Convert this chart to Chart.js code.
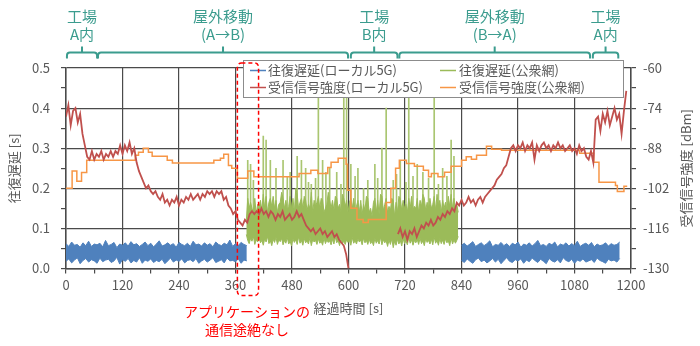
<!DOCTYPE html>
<html lang="ja">
<head>
<meta charset="utf-8">
<title>往復遅延と受信信号強度</title>
<script src="https://cdn.jsdelivr.net/npm/chart.js@4.4.1/dist/chart.umd.min.js"></script>
<style>
  html, body { margin: 0; padding: 0; background: #fff; }
</style>
</head>
<body>
<canvas id="chart" width="700" height="346"></canvas>
<script>
const FONT = "'Noto Sans CJK JP', 'Noto Sans', sans-serif";
const GRAY = '#595959';
const GRID = '#4a4a4a';
const TEAL = '#3b9c8e';

const seriesNames = ['往復遅延(ローカル5G)', '往復遅延(公衆網)', '受信信号強度(ローカル5G)', '受信信号強度(公衆網)'];
const seriesColors = ['#4f81bd', '#9bbb59', '#c0504d', '#f79646'];
const spikeColor = '#aac671';

// 軸の目盛り
const xTickValues = [0, 120, 240, 360, 480, 600, 720, 840, 960, 1080, 1200];
const yLeftTicks = [0, 0.1, 0.2, 0.3, 0.4, 0.5];
const yRightTicks = [-130, -116, -102, -88, -74, -60];

// 往復遅延(ローカル5G) [ms] 6秒ごとの上端・下端
const rttLocalStart = [0, 840];
const rttLocalStep = 6;
const rttLocalUpperA = [
  62,55,66,58,60, 53,64,57,68,55, 61,59,63,54,70, 57,60,65,52,61,
  58,64,56,67,59, 62,55,60,66,57, 63,54,61,69,56, 59,64,58,62,53,
  65,60,57,63,55, 68,59,61,56,64, 58,62,54,66,60, 57,63,59,71,55,
  62,58,65,60,57
];
const rttLocalLowerA = [
  18,24,14,21,27, 12,20,25,16,22, 19,13,26,17,21, 23,15,19,28,11,
  22,18,25,14,20, 16,27,13,21,18, 24,15,20,17,23, 12,19,26,16,21,
  18,24,14,20,22, 17,25,13,19,23, 16,21,27,15,18, 22,14,26,19,20,
  17,24,13,21,19
];
const rttLocalUpperB = [
  58,63,56,61,67, 55,60,64,57,62, 69,54,60,58,65, 57,62,55,63,59,
  66,53,61,58,64, 56,62,70,57,60, 55,63,59,66,54, 61,58,64,56,62,
  57,68,55,60,63, 58,65,54,61,57, 59,64,56,62,58, 60,66
];
const rttLocalLowerB = [
  20,15,24,18,13, 22,26,17,21,14, 19,25,16,23,12, 20,27,18,15,22,
  19,24,13,21,17, 26,20,15,23,18, 12,25,19,16,22, 14,27,20,17,23,
  13,21,18,24,16, 19,22,15,26,20, 17,13,23,19,21, 16,25
];

// 往復遅延(公衆網) [ms] 3秒ごとの上端・下端
const rttPublicStart = 383;
const rttPublicStep = 3;
const rttPublicUpper = [
  120,175,150,165,150,140,175,135,160,150,
  170,145,185,150,180,140,165,175,155,180,
  150,170,140,160,165,190,175,150,170,145,
  155,180,150,175,140,200,185,150,165,175,
  150,180,170,145,160,150,190,140,170,155,
  165,180,150,175,170,140,150,160,190,170,
  150,170,145,180,175,150,160,140,185,175,
  155,170,140,165,175,150,175,145,155,170,
  140,170,135,160,145,180,175,140,150,130,
  165,175,140,170,135,185,180,145,160,175,
  140,155,145,175,170,130,165,140,180,175,
  145,170,150,160,140,175,150,180,145,155,
  150,175,140,170,155,185,175,145,165,150,
  175,150,160,180,145,185,155,170,140,170,
  150,165,145,180,155,185,150,175,145,160,
  140
];
const rttPublicLower = [
  85,70,62,75,68,80,60,72,66,78,
  64,70,58,74,66,80,62,69,57,73,
  65,78,60,71,67,75,59,70,63,77,
  61,68,56,74,65,72,60,79,63,70,
  58,75,64,69,61,77,57,72,66,70,
  60,74,63,68,58,76,62,71,65,69,
  59,73,61,78,64,70,57,75,62,68,
  60,72,65,70,58,77,63,69,61,74,
  66,71,59,76,64,70,60,73,62,68,
  57,75,63,70,61,78,59,72,64,69,
  55,71,60,74,52,68,58,73,61,70,
  56,75,62,69,59,77,63,71,58,70,
  64,72,60,76,62,69,57,74,65,70,
  61,73,59,78,63,70,58,75,62,71,
  60,74,64,69,57,76,61,72,63,70,
  80
];
// 往復遅延(公衆網) の突発的な遅延 [s] と [ms]
const rttPublicSpikeTime = [386,392,398,419,425,434,446,461,470,476,491,500,509,515,521,530,536,545,552,560,
  575,584,590,596,605,614,620,632,641,656,662,671,680,695,702,710,722,728,737,746,
  758,770,782,791,800,809,818,824];
const rttPublicSpike = [270,260,220,330,320,270,250,270,230,240,280,270,250,215,210,225,490,270,240,250,
  240,210,490,480,260,230,250,200,220,260,225,300,400,220,235,270,215,490,230,260,
  240,225,490,210,250,230,320,280];
const rttPublicSpikeBase = 90;

// 受信信号強度(ローカル5G) [dBm] 5秒ごと
const rssiLocalStart = [0, 705];
const rssiLocalStep = 5;
const rssiLocalA = [
  -77,-73,-80,-75,-74,-79,-76,-83,-87,-91,
  -92,-89,-92,-90,-91,-89,-92,-90,-91,-89,
  -91,-89,-90,-87,-90,-87,-89,-86,-90,-88,
  -93,-96,-98,-100,-102,-101,-103,-104,-103,-105,
  -106,-104,-107,-106,-108,-106,-107,-105,-108,-106,
  -107,-105,-106,-104,-106,-105,-104,-106,-104,-105,
  -103,-104,-103,-105,-103,-104,-103,-106,-105,-108,
  -109,-111,-110,-113,-114,-115,-113,-114,-111,-110,
  -111,-110,-111,-109,-111,-110,-112,-110,-111,-113,
  -111,-112,-110,-113,-112,-111,-113,-112,-110,-112,
  -111,-113,-115,-116,-117,-116,-118,-117,-116,-118,
  -117,-119,-118,-117,-119,-118,-120,-121,-122,-125,
  -130
];
const rssiLocalB = [
  -118,-116,-119,-117,-120,-117,-118,-116,-119,-117,
  -115,-116,-114,-115,-113,-115,-114,-112,-113,-111,
  -112,-110,-111,-109,-110,-107,-108,-106,-108,-107,
  -105,-107,-106,-108,-106,-105,-107,-105,-104,-103,
  -102,-101,-99,-98,-97,-95,-94,-91,-88,-87,
  -89,-87,-88,-86,-89,-87,-88,-86,-92,-87,
  -89,-87,-86,-88,-87,-89,-87,-88,-86,-88,
  -87,-89,-88,-87,-89,-88,-90,-87,-89,-88,
  -91,-92,-89,-93,-78,-77,-82,-76,-79,-75,
  -80,-77,-74,-78,-76,-83,-75,-68
];

// 受信信号強度(公衆網) [dBm] 階段状
const rssiPublicTime = [0,13,23,33,44,147,154,164,175,183,215,226,314,328,335,345,352,364,386,399,
  495,520,535,556,563,578,595,598,605,618,631,642,680,690,700,708,723,740,759,770,
  776,790,804,818,840,850,861,872,893,904,925,1091,1121,1132,1167,1171,1185,1192];
const rssiPublic = [-102,-96,-99.5,-96.5,-92.2,-90.5,-89.4,-88,-89.4,-90.8,-92.2,-93.2,-92.2,-91.5,-90.1,-94,-95,-98.5,-96,-98,
  -96.8,-95.7,-96.8,-94.7,-92.9,-91.5,-93.6,-102.7,-109,-112.9,-113.9,-112.9,-107,-102,-95,-92.2,-93.3,-94.3,-95.7,-98,
  -96.8,-98,-96.4,-94.3,-92.2,-91,-91.9,-90.5,-87.3,-88.4,-88.7,-89.8,-92.9,-99.9,-101,-103.1,-101.3,-101.3];

// 区間ラベル
const phaseLines = [['工場', 'A内'], ['屋外移動', '(A→B)'], ['工場', 'B内'], ['屋外移動', '(B→A)'], ['工場', 'A内']];
const phaseFrom = [2, 68, 605, 708, 1119];
const phaseTo = [66, 599, 704, 1113, 1173];

// 注記
const noteFrom = 364;
const noteTo = 409;
const noteLines = ['アプリケーションの', '通信途絶なし'];

function toPoints(start, step, values, div) {
  return values.map((v, i) => ({ x: start + i * step, y: v / div }));
}

// 2区間を null で区切ってつなぐ
function twoParts(starts, step, a, b, div) {
  return toPoints(starts[0], step, a, div)
    .concat([{ x: starts[0] + a.length * step, y: null }])
    .concat(toPoints(starts[1], step, b, div));
}

const rttLocalUpper = twoParts(rttLocalStart, rttLocalStep, rttLocalUpperA, rttLocalUpperB, 1000);
const rttLocalLower = twoParts(rttLocalStart, rttLocalStep, rttLocalLowerA, rttLocalLowerB, 1000);
const rttPublicUp = toPoints(rttPublicStart, rttPublicStep, rttPublicUpper, 1000);
const rttPublicLow = toPoints(rttPublicStart, rttPublicStep, rttPublicLower, 1000);
const rttPublicSpikes = rttPublicSpikeTime.map((t, i) => ({ x: t, y: [rttPublicSpikeBase / 1000, rttPublicSpike[i] / 1000] }));
const rssiLocalData = twoParts(rssiLocalStart, rssiLocalStep, rssiLocalA, rssiLocalB, 1);
const rssiPublicData = rssiPublicTime.map((t, i) => ({ x: t, y: rssiPublic[i] }));

const overlay = {
  id: 'overlay',
  afterDatasetsDraw(chart) {
    const ctx = chart.ctx;
    ctx.save();
    // 凡例
    ctx.fillStyle = '#fff';
    ctx.fillRect(243, 60, 380, 37);
    ctx.strokeStyle = '#8c8c8c';
    ctx.lineWidth = 1;
    ctx.strokeRect(243.5, 60.5, 380, 37);
    const lineX = [250, 440], textX = [268, 459], rowY = [70.5, 87.5];
    ctx.font = '13px ' + FONT;
    ctx.textBaseline = 'middle';
    ctx.textAlign = 'left';
    seriesNames.forEach((name, i) => {
      const c = i % 2, r = Math.floor(i / 2);
      ctx.strokeStyle = seriesColors[i];
      ctx.lineWidth = 1.5;
      ctx.beginPath();
      ctx.moveTo(lineX[c], rowY[r]);
      ctx.lineTo(lineX[c] + 16, rowY[r]);
      ctx.stroke();
      ctx.fillStyle = GRAY;
      ctx.fillText(name, textX[c], rowY[r]);
    });
    // 赤い破線の枠
    const x = chart.scales.x;
    const area = chart.chartArea;
    const bx0 = x.getPixelForValue(noteFrom), bx1 = x.getPixelForValue(noteTo);
    const by0 = area.top - 5, by1 = area.bottom + 27;
    ctx.strokeStyle = '#ff0000';
    ctx.lineWidth = 1.5;
    ctx.setLineDash([4, 3]);
    ctx.beginPath();
    ctx.roundRect(bx0, by0, bx1 - bx0, by1 - by0, 4);
    ctx.stroke();
    ctx.restore();
  },
  afterDraw(chart) {
    const ctx = chart.ctx;
    const x = chart.scales.x;
    const area = chart.chartArea;
    ctx.save();
    // 区間ラベルと括弧
    ctx.strokeStyle = TEAL;
    ctx.fillStyle = TEAL;
    ctx.lineWidth = 2;
    ctx.font = '15px ' + FONT;
    ctx.textAlign = 'center';
    ctx.textBaseline = 'middle';
    phaseLines.forEach((lines, i) => {
      const x0 = x.getPixelForValue(phaseFrom[i]);
      const x1 = x.getPixelForValue(phaseTo[i]);
      const xm = (x0 + x1) / 2;
      const yb = 52.5, r = 3;
      ctx.beginPath();
      ctx.moveTo(x0, yb + 6);
      ctx.arcTo(x0, yb, x0 + r, yb, r);
      ctx.lineTo(x1 - r, yb);
      ctx.arcTo(x1, yb, x1, yb + r, r);
      ctx.lineTo(x1, yb + 6);
      ctx.moveTo(xm, yb);
      ctx.lineTo(xm, yb - 6);
      ctx.stroke();
      ctx.fillText(lines[0], xm, 16);
      ctx.fillText(lines[1], xm, 34);
    });
    // 右軸タイトル
    ctx.fillStyle = GRAY;
    ctx.font = '13px ' + FONT;
    ctx.translate(686, (area.top + area.bottom) / 2);
    ctx.rotate(-Math.PI / 2);
    ctx.fillText('受信信号強度 [dBm]', 0, 0);
    ctx.setTransform(1, 0, 0, 1, 0, 0);
    // 注記テキスト
    ctx.fillStyle = '#ff0000';
    ctx.font = '14px ' + FONT;
    const cx = (x.getPixelForValue(noteFrom) + x.getPixelForValue(noteTo)) / 2 - 1;
    ctx.fillText(noteLines[0], cx, 312);
    ctx.fillText(noteLines[1], cx, 330);
    ctx.restore();
  }
};

new Chart(document.getElementById('chart'), {
  type: 'line',
  data: {
    datasets: [
      // 細かい揺れは上端と下端の間を塗りつぶして帯として描く
      { label: seriesNames[0], data: rttLocalUpper, yAxisID: 'y', borderColor: seriesColors[0], backgroundColor: seriesColors[0], borderWidth: 1, fill: '+1', order: 3 },
      { label: seriesNames[0] + '下端', data: rttLocalLower, yAxisID: 'y', borderColor: seriesColors[0], borderWidth: 1, fill: false, order: 3 },
      { label: seriesNames[1], data: rttPublicUp, yAxisID: 'y', borderColor: seriesColors[1], backgroundColor: seriesColors[1], borderWidth: 1, fill: '+1', order: 2 },
      { label: seriesNames[1] + '下端', data: rttPublicLow, yAxisID: 'y', borderColor: seriesColors[1], borderWidth: 1, fill: false, order: 2 },
      { type: 'bar', label: seriesNames[1] + '突発', data: rttPublicSpikes, yAxisID: 'y', backgroundColor: spikeColor, barThickness: 1, grouped: false, order: 2 },
      { label: seriesNames[2], data: rssiLocalData, yAxisID: 'y2', borderColor: seriesColors[2], borderWidth: 1.8, order: 0 },
      { label: seriesNames[3], data: rssiPublicData, yAxisID: 'y2', borderColor: seriesColors[3], borderWidth: 1.5, stepped: 'before', order: 1 }
    ]
  },
  options: {
    responsive: false,
    animation: false,
    devicePixelRatio: 1,
    events: [],
    layout: { padding: { top: 68 } },
    elements: { point: { radius: 0 }, line: { tension: 0 } },
    plugins: { legend: { display: false }, tooltip: { enabled: false } },
    scales: {
      x: {
        type: 'linear',
        min: 0,
        max: 1200,
        offset: false,
        afterFit: (s) => { s.height = 77.5; },
        ticks: {
          stepSize: 60,
          color: GRAY,
          font: { family: FONT, size: 13 },
          padding: 4,
          maxRotation: 0,
          autoSkip: false,
          callback: (v) => xTickValues.includes(v) ? String(v) : ''
        },
        grid: {
          color: (c) => xTickValues.includes(c.tick.value) ? GRID : 'rgba(0,0,0,0)',
          tickColor: GRID,
          tickLength: 5,
          lineWidth: 1.2,
          offset: false
        },
        border: { color: GRID, width: 1.5 },
        title: { display: true, text: '経過時間 [s]', color: GRAY, font: { family: FONT, size: 13 }, padding: { top: 0, bottom: 30 } }
      },
      y: {
        position: 'left',
        min: 0,
        max: 0.5,
        afterFit: (s) => { s.width = 66; },
        ticks: {
          stepSize: 0.05,
          color: GRAY,
          font: { family: FONT, size: 13 },
          padding: 11,
          callback: (v) => yLeftTicks.some(t => Math.abs(t - v) < 1e-6) ? v.toFixed(1) : ''
        },
        grid: {
          color: (c) => yLeftTicks.some(t => Math.abs(t - c.tick.value) < 1e-6) ? GRID : 'rgba(0,0,0,0)',
          tickColor: GRID,
          tickLength: 5,
          lineWidth: 1.2
        },
        border: { color: GRID, width: 1.5 },
        title: { display: true, text: '往復遅延 [s]', color: GRAY, font: { family: FONT, size: 13 }, padding: { top: 6, bottom: 0 } }
      },
      y2: {
        position: 'right',
        min: -130,
        max: -60,
        afterFit: (s) => { s.width = 69; },
        ticks: {
          stepSize: 7,
          color: GRAY,
          font: { family: FONT, size: 13 },
          padding: 7,
          callback: (v) => yRightTicks.includes(v) ? String(v) : ''
        },
        grid: { drawOnChartArea: false, tickColor: GRID, tickLength: 5, lineWidth: 1.2 },
        border: { color: GRID, width: 1.5 }
      }
    }
  },
  plugins: [overlay]
});
</script>
</body>
</html>
